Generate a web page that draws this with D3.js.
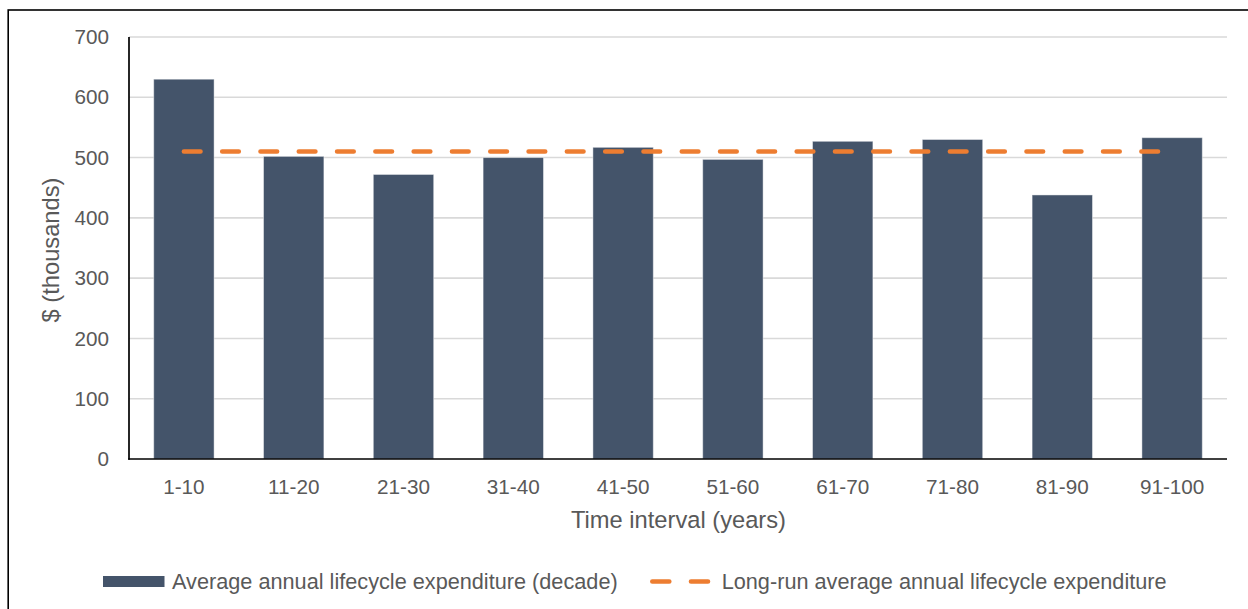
<!DOCTYPE html>
<html>
<head>
<meta charset="utf-8">
<script src="https://cdn.jsdelivr.net/npm/d3@7"></script>
<style>
  html, body { margin: 0; padding: 0; background: #fff; }
  svg { display: block; }
  text { font-family: "Liberation Sans", Arial, sans-serif; fill: #595959; }
</style>
</head>
<body>
<svg id="chart" width="1248" height="609"></svg>
<script>
// Decade intervals and their average annual lifecycle expenditure ($ thousands)
const categories = ["1-10", "11-20", "21-30", "31-40", "41-50", "51-60", "61-70", "71-80", "81-90", "91-100"];
const decadeValues = [630, 502, 472, 500, 517, 497, 527, 530, 438, 533];
const longRunAverage = 510;
const yTicks = [0, 100, 200, 300, 400, 500, 600, 700];
const legendLabels = ["Average annual lifecycle expenditure (decade)", "Long-run average annual lifecycle expenditure"];
const axisTitles = { x: "Time interval (years)", y: "$ (thousands)" };

const barColor = "#44546A";
const lineColor = "#ED7D31";

const svg = d3.select("#chart");
const plot = { left: 129, right: 1227, top: 37, bottom: 459 };

// outer chart frame (runs off the right and bottom edges)
svg.append("rect")
  .attr("x", 8.2).attr("y", 10)
  .attr("width", 1300).attr("height", 700)
  .attr("fill", "none").attr("stroke", "#000").attr("stroke-width", 1.6);

const x = d3.scaleBand().domain(categories).range([plot.left, plot.right])
  .paddingInner(0.45).paddingOuter(0.225);
const y = d3.scaleLinear().domain([0, 700]).range([plot.bottom, plot.top]);

// horizontal gridlines
svg.append("g")
  .selectAll("line")
  .data(yTicks.filter(d => d > 0))
  .join("line")
  .attr("x1", plot.left).attr("x2", plot.right)
  .attr("y1", d => y(d)).attr("y2", d => y(d))
  .attr("stroke", "#d9d9d9").attr("stroke-width", 1.6);

// y axis tick labels
const yAxis = d3.axisLeft(y).tickValues(yTicks).tickSize(0).tickPadding(20);
const gy = svg.append("g").attr("transform", `translate(${plot.left},0)`).call(yAxis);
gy.select(".domain").remove();
gy.selectAll("text")
  .style("font-size", "20.7px").attr("fill", "#595959")
  .style("font-family", '"Liberation Sans", Arial, sans-serif');

// bars
svg.append("g")
  .selectAll("rect")
  .data(categories.map((c, i) => ({ c, v: decadeValues[i] })))
  .join("rect")
  .attr("x", d => x(d.c))
  .attr("y", d => y(d.v))
  .attr("width", x.bandwidth())
  .attr("height", d => y(0) - y(d.v))
  .attr("fill", barColor)
  .attr("stroke", "rgba(255,255,255,0.45)")
  .attr("stroke-width", 1);

// long-run average dashed line, centre of first band to centre of last band
const avgLine = d3.line().x(d => d[0]).y(d => d[1]);
svg.append("path")
  .attr("d", avgLine([
    [x(categories[0]) + x.bandwidth() / 2, y(longRunAverage)],
    [x(categories[categories.length - 1]) + x.bandwidth() / 2, y(longRunAverage)]
  ]))
  .attr("fill", "none")
  .attr("stroke", lineColor)
  .attr("stroke-width", 4.6)
  .attr("stroke-linecap", "round")
  .attr("stroke-dasharray", "16.6 21.7");

// x axis with category labels
const xAxis = d3.axisBottom(x).tickSize(0).tickPadding(20);
const gx = svg.append("g").attr("transform", `translate(0,${plot.bottom})`).call(xAxis);
gx.select(".domain").remove();
gx.selectAll("text")
  .style("font-size", "20.7px").attr("fill", "#595959")
  .style("font-family", '"Liberation Sans", Arial, sans-serif');

// axis lines
svg.append("line")
  .attr("x1", plot.left).attr("x2", plot.left)
  .attr("y1", plot.top).attr("y2", plot.bottom + 0.8)
  .attr("stroke", "#000").attr("stroke-width", 1.7);
svg.append("line")
  .attr("x1", plot.left - 0.8).attr("x2", plot.right)
  .attr("y1", plot.bottom).attr("y2", plot.bottom)
  .attr("stroke", "#000").attr("stroke-width", 1.7);

// axis titles
svg.append("text")
  .attr("x", (plot.left + plot.right) / 2 + 0.5).attr("y", 528)
  .attr("text-anchor", "middle")
  .style("font-size", "23.7px")
  .text(axisTitles.x);
svg.append("text")
  .attr("transform", "translate(59,250) rotate(-90)")
  .attr("text-anchor", "middle")
  .style("font-size", "23.7px")
  .text(axisTitles.y);

// legend
const legend = svg.append("g");
legend.append("rect")
  .attr("x", 103).attr("y", 576).attr("width", 61.5).attr("height", 11)
  .attr("fill", barColor);
legend.append("text")
  .attr("x", 172).attr("y", 588.6)
  .style("font-size", "21.7px")
  .text(legendLabels[0]);
legend.append("path")
  .attr("d", avgLine([[652.3, 581.5], [708, 581.5]]))
  .attr("fill", "none")
  .attr("stroke", lineColor)
  .attr("stroke-width", 4.6)
  .attr("stroke-linecap", "round")
  .attr("stroke-dasharray", "17 21.7");
legend.append("text")
  .attr("x", 721.7).attr("y", 588.6)
  .style("font-size", "21.7px")
  .text(legendLabels[1]);
</script>
</body>
</html>
